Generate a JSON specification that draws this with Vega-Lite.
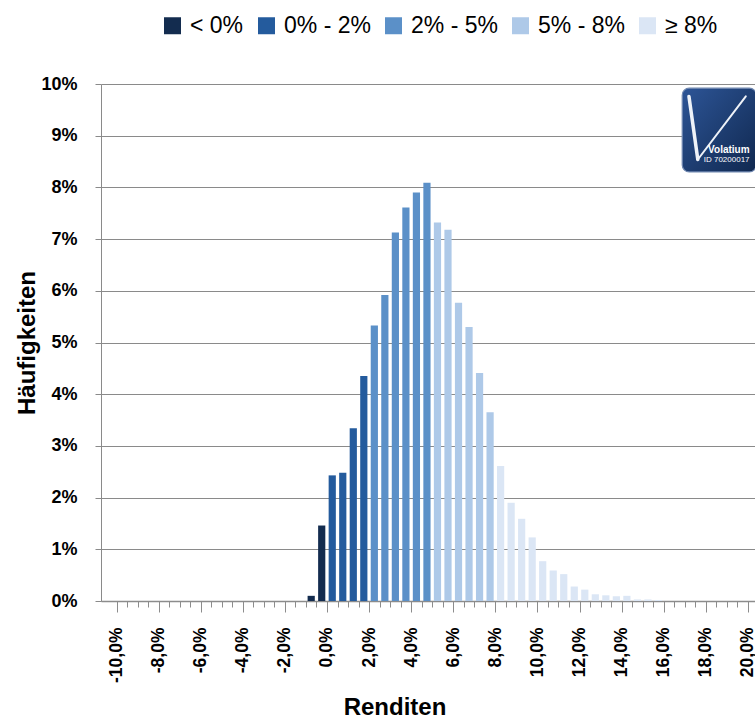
{
  "$schema": "https://vega.github.io/schema/vega-lite/v6.json",
  "autosize": {"type": "none"},
  "width": 654,
  "height": 517,
  "padding": {"left": 101, "top": 84, "right": 0, "bottom": 117},
  "background": "white",
  "config": {
    "view": {"stroke": null},
    "font": "Liberation Sans",
    "axis": {"labelFont": "Liberation Sans", "titleFont": "Liberation Sans", "labelColor": "black", "titleColor": "black"}
  },
  "datasets": {
    "renditen": [
      {"rendite": -0.75, "anteil": 0.10, "klasse": "< 0%"},
      {"rendite": -0.25, "anteil": 1.46, "klasse": "< 0%"},
      {"rendite": 0.25, "anteil": 2.43, "klasse": "0% - 2%"},
      {"rendite": 0.75, "anteil": 2.48, "klasse": "0% - 2%"},
      {"rendite": 1.25, "anteil": 3.34, "klasse": "0% - 2%"},
      {"rendite": 1.75, "anteil": 4.35, "klasse": "0% - 2%"},
      {"rendite": 2.25, "anteil": 5.33, "klasse": "2% - 5%"},
      {"rendite": 2.75, "anteil": 5.92, "klasse": "2% - 5%"},
      {"rendite": 3.25, "anteil": 7.13, "klasse": "2% - 5%"},
      {"rendite": 3.75, "anteil": 7.61, "klasse": "2% - 5%"},
      {"rendite": 4.25, "anteil": 7.90, "klasse": "2% - 5%"},
      {"rendite": 4.75, "anteil": 8.09, "klasse": "2% - 5%"},
      {"rendite": 5.25, "anteil": 7.32, "klasse": "5% - 8%"},
      {"rendite": 5.75, "anteil": 7.18, "klasse": "5% - 8%"},
      {"rendite": 6.25, "anteil": 5.77, "klasse": "5% - 8%"},
      {"rendite": 6.75, "anteil": 5.30, "klasse": "5% - 8%"},
      {"rendite": 7.25, "anteil": 4.41, "klasse": "5% - 8%"},
      {"rendite": 7.75, "anteil": 3.65, "klasse": "5% - 8%"},
      {"rendite": 8.25, "anteil": 2.61, "klasse": "≥ 8%"},
      {"rendite": 8.75, "anteil": 1.90, "klasse": "≥ 8%"},
      {"rendite": 9.25, "anteil": 1.59, "klasse": "≥ 8%"},
      {"rendite": 9.75, "anteil": 1.23, "klasse": "≥ 8%"},
      {"rendite": 10.25, "anteil": 0.77, "klasse": "≥ 8%"},
      {"rendite": 10.75, "anteil": 0.59, "klasse": "≥ 8%"},
      {"rendite": 11.25, "anteil": 0.52, "klasse": "≥ 8%"},
      {"rendite": 11.75, "anteil": 0.28, "klasse": "≥ 8%"},
      {"rendite": 12.25, "anteil": 0.22, "klasse": "≥ 8%"},
      {"rendite": 12.75, "anteil": 0.13, "klasse": "≥ 8%"},
      {"rendite": 13.25, "anteil": 0.11, "klasse": "≥ 8%"},
      {"rendite": 13.75, "anteil": 0.09, "klasse": "≥ 8%"},
      {"rendite": 14.25, "anteil": 0.10, "klasse": "≥ 8%"},
      {"rendite": 14.75, "anteil": 0.03, "klasse": "≥ 8%"},
      {"rendite": 15.25, "anteil": 0.03, "klasse": "≥ 8%"},
      {"rendite": 15.75, "anteil": 0.02, "klasse": "≥ 8%"}
    ]
  },
  "resolve": {"axis": {"x": "independent", "y": "independent"}},
  "layer": [
    {
      "data": {"name": "renditen"},
      "mark": {"type": "bar", "width": 7.2},
      "encoding": {
        "x": {
          "field": "rendite", "type": "quantitative",
          "scale": {"domain": [-10.5, 20.1], "nice": false, "zero": false},
          "axis": {
            "orient": "bottom",
            "values": [-10,-9.5,-9,-8.5,-8,-7.5,-7,-6.5,-6,-5.5,-5,-4.5,-4,-3.5,-3,-2.5,-2,-1.5,-1,-0.5,0,0.5,1,1.5,2,2.5,3,3.5,4,4.5,5,5.5,6,6.5,7,7.5,8,8.5,9,9.5,10,10.5,11,11.5,12,12.5,13,13.5,14,14.5,15,15.5,16,16.5,17,17.5,18,18.5,19,19.5,20],
            "labels": false, "grid": false, "title": null,
            "tickSize": 6, "tickColor": "#8c8c8c", "tickWidth": 1,
            "domain": true, "domainColor": "#8c8c8c", "domainWidth": 1.5
          }
        },
        "y": {
          "field": "anteil", "type": "quantitative",
          "scale": {"domain": [0, 10], "nice": false, "zero": true},
          "axis": {
            "values": [0,1,2,3,4,5,6,7,8,9,10],
            "labelExpr": "datum.value + '%'",
            "labelFontSize": 18, "labelFontWeight": "bold", "labelPadding": 18,
            "tickSize": 6, "tickColor": "#8a8a8a",
            "grid": true, "gridColor": "#8a8a8a", "gridWidth": 1,
            "domainColor": "#8a8a8a", "domainWidth": 1,
            "title": "Häufigkeiten", "titleFontSize": 24, "titleFontWeight": "bold",
            "titleX": -62, "titleBaseline": "bottom"
          }
        },
        "color": {
          "field": "klasse", "type": "nominal",
          "scale": {
            "domain": ["< 0%", "0% - 2%", "2% - 5%", "5% - 8%", "≥ 8%"],
            "range": ["#132c4f", "#245b9d", "#5b90c8", "#aec9e8", "#dbe6f5"]
          },
          "legend": {
            "orient": "none", "legendX": 60, "legendY": -70, "direction": "horizontal",
            "title": null, "padding": 0,
            "symbolType": "square", "symbolSize": 289, "symbolStrokeWidth": 0, "symbolOpacity": 1,
            "labelFont": "Liberation Sans", "labelFontSize": 23, "labelColor": "black",
            "labelOffset": 6, "columnPadding": 11
          }
        }
      }
    },
    {
      "data": {"values": [{"logo": "Volatium"}]},
      "mark": {"type": "rect", "cornerRadius": 7, "stroke": "#6f87b0", "strokeWidth": 1.2,
        "color": {"gradient": "linear", "x1": 0, "y1": 0, "x2": 1, "y2": 1,
          "stops": [{"offset": 0, "color": "#2d5597"}, {"offset": 1, "color": "#10284f"}]}},
      "encoding": {
        "x": {
          "datum": 16.88, "type": "quantitative",
          "scale": {"domain": [-10.5, 20.1], "nice": false, "zero": false},
          "axis": {
            "orient": "bottom",
            "values": [-10,-8,-6,-4,-2,0,2,4,6,8,10,12,14,16,18,20],
            "labelExpr": "(datum.value < 0 ? '-' : '') + replace(format(abs(datum.value), '.1f'), '.', ',') + '%'",
            "labelAngle": 270, "labelFontSize": 17.5, "labelFontWeight": "bold",
            "labelPadding": 15, "labelOverlap": false, "labelFlush": false, "labelBound": false,
            "tickSize": 11, "tickColor": "#8c8c8c", "tickWidth": 1,
            "domain": false, "grid": false,
            "title": "Renditen", "titleFontSize": 24, "titleFontWeight": "bold",
            "titleX": 293.5, "titleY": 113, "titleBaseline": "alphabetic"
          }
        },
        "x2": {"datum": 20.4},
        "y": {"datum": 9.92, "type": "quantitative", "scale": {"domain": [0, 10], "nice": false}, "axis": null},
        "y2": {"datum": 8.3}
      }
    },
    {
      "data": {"values": [{"logo": "V"}]},
      "mark": {"type": "rule", "color": "#eef2f8", "strokeWidth": 3.5, "strokeCap": "round"},
      "encoding": {
        "x": {"datum": 17.2, "type": "quantitative", "scale": {"domain": [-10.5, 20.1], "nice": false, "zero": false}, "axis": null},
        "y": {"datum": 9.76, "type": "quantitative", "scale": {"domain": [0, 10], "nice": false}, "axis": null},
        "x2": {"datum": 17.62},
        "y2": {"datum": 8.54}
      }
    },
    {
      "data": {"values": [{"logo": "V"}]},
      "mark": {"type": "rule", "color": "#eef2f8", "strokeWidth": 2, "strokeCap": "round"},
      "encoding": {
        "x": {"datum": 17.62, "type": "quantitative", "scale": {"domain": [-10.5, 20.1], "nice": false, "zero": false}, "axis": null},
        "y": {"datum": 8.54, "type": "quantitative", "scale": {"domain": [0, 10], "nice": false}, "axis": null},
        "x2": {"datum": 19.9},
        "y2": {"datum": 9.76}
      }
    },
    {
      "data": {"values": [{"logo": "Volatium"}]},
      "mark": {"type": "text", "text": "Volatium", "color": "white", "font": "Liberation Sans", "fontWeight": "bold", "fontSize": 10, "align": "right", "baseline": "alphabetic"},
      "encoding": {
        "x": {"datum": 20.08, "type": "quantitative", "scale": {"domain": [-10.5, 20.1], "nice": false, "zero": false}, "axis": null},
        "y": {"datum": 8.67, "type": "quantitative", "scale": {"domain": [0, 10], "nice": false}, "axis": null}
      }
    },
    {
      "data": {"values": [{"logo": "ID"}]},
      "mark": {"type": "text", "text": "ID 70200017", "color": "white", "font": "Liberation Sans", "fontSize": 8, "align": "right", "baseline": "alphabetic"},
      "encoding": {
        "x": {"datum": 20.08, "type": "quantitative", "scale": {"domain": [-10.5, 20.1], "nice": false, "zero": false}, "axis": null},
        "y": {"datum": 8.49, "type": "quantitative", "scale": {"domain": [0, 10], "nice": false}, "axis": null}
      }
    }
  ]
}
